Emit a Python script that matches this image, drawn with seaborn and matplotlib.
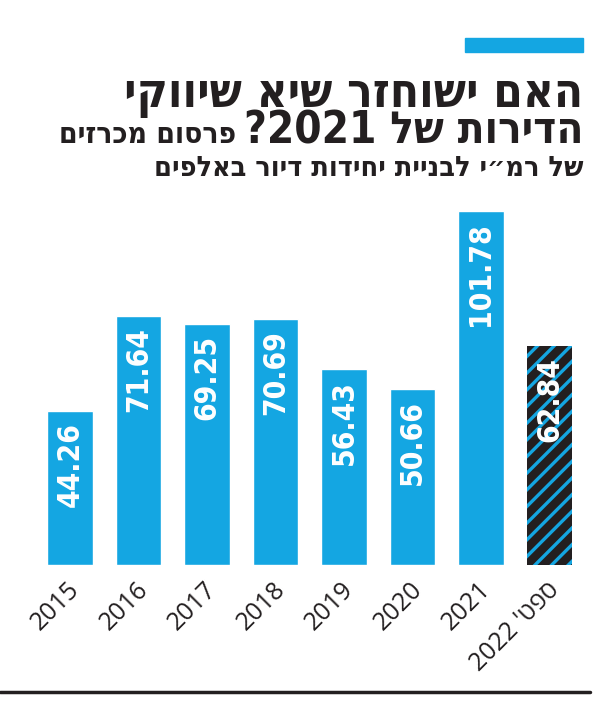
import re
import matplotlib
matplotlib.use("Agg")
import matplotlib.pyplot as plt
from matplotlib.patches import Rectangle
from matplotlib.lines import Line2D
from matplotlib.transforms import ScaledTranslation
import seaborn as sns
import pandas as pd

# ---- data ----
categories = ["2015", "2016", "2017", "2018", "2019", "2020", "2021", "ספט' 2022"]
values = [44.26, 71.64, 69.25, 70.69, 56.43, 50.66, 101.78, 62.84]
value_labels = ["44.26", "71.64", "69.25", "70.69", "56.43", "50.66", "101.78", "62.84"]
title_line1 = "האם ישוחזר שיא שיווקי"
title_line2 = "הדירות של 2021?"
subtitle_part1 = "פרסום מכרזים"
subtitle_line2 = "של רמ״י לבניית יחידות דיור באלפים"

BLUE = "#14a6e2"
DARK = "#231f20"


def rtl(s):
    """Visual order for right-to-left Hebrew text (keep digit runs LTR)."""
    r = s[::-1]
    return re.sub(r"[0-9A-Za-z.]+", lambda m: m.group(0)[::-1], r)


sns.set_theme(style="white")
plt.rcParams["font.family"] = ["DejaVu Sans"]
plt.rcParams["hatch.linewidth"] = 2.4

W, H = 608, 703
fig = plt.figure(figsize=(W / 100, H / 100), dpi=100)

# axes placement in pixels
x_left, x_right = 35.75, 583.75
y_base = 565
ppu = (565 - 211) / 101.78
ymax = 110
ax_h = ymax * ppu
ax = fig.add_axes([x_left / W, 1 - y_base / H, (x_right - x_left) / W, ax_h / H])

df = pd.DataFrame({"cat": [rtl(c) for c in categories], "val": values})
sns.barplot(data=df, x="cat", y="val", color=BLUE, saturation=1, width=0.67, ax=ax)
ax.set_ylim(0, ymax)
ax.set_xlim(-0.5, len(categories) - 0.5)

# last bar hatched
last = ax.patches[-1]
last.set_facecolor(DARK)
last.set_edgecolor(BLUE)
last.set_hatch("//")
last.set_linewidth(0)

for i, (v, lab) in enumerate(zip(values, value_labels)):
    ax.annotate(lab, xy=(i, v), xytext=(0, -8), textcoords="offset points",
                rotation=90, ha="center", va="top", color="white",
                fontsize=21.5, fontweight="bold", fontstretch="condensed",
                family=["DejaVu Sans"])

ax.set_xlabel("")
ax.set_ylabel("")
ax.set_yticks([])
for s in ax.spines.values():
    s.set_visible(False)
ax.tick_params(axis="x", length=0, pad=6)
offset = ScaledTranslation(6 / 100, -13 / 100, fig.dpi_scale_trans)
for t in ax.get_xticklabels():
    t.set_rotation(45)
    t.set_rotation_mode("anchor")
    t.set_ha("right")
    t.set_va("center")
    t.set_fontsize(18)
    t.set_family(["Open Sans", "DejaVu Sans"])
    t.set_fontweight("medium")
    t.set_color("#231f20")
    t.set_transform(t.get_transform() + offset)

# ---- header ----
fig.patches.append(Rectangle((465 / W, 1 - 52 / H), 118 / W, 14 / H,
                             transform=fig.transFigure, color=BLUE, zorder=5))
R = 583 / W
t1 = fig.text(R, 1 - 107 / H, rtl(title_line1), ha="right", va="baseline",
              fontsize=34, fontweight="bold", fontstretch="condensed", color=DARK)
t2 = fig.text(R, 1 - 143 / H, rtl(title_line2), ha="right", va="baseline",
              fontsize=31.5, fontweight="bold", fontstretch="condensed", color=DARK)
fig.canvas.draw()
bb = t2.get_window_extent(fig.canvas.get_renderer())
fig.text((bb.x0 - 7) / W, 1 - 143 / H, rtl(subtitle_part1), ha="right", va="baseline",
         fontsize=21.5, fontweight="bold", fontstretch="condensed", color=DARK)
fig.text(R, 1 - 176 / H, rtl(subtitle_line2), ha="right", va="baseline",
         fontsize=20.5, fontweight="bold", fontstretch="condensed", color=DARK)

# bottom rule
fig.add_artist(Line2D([0, 590 / W], [1 - 692 / H, 1 - 692 / H], color=DARK,
                      linewidth=2.5, transform=fig.transFigure))

fig.savefig("out.png", dpi=100)
